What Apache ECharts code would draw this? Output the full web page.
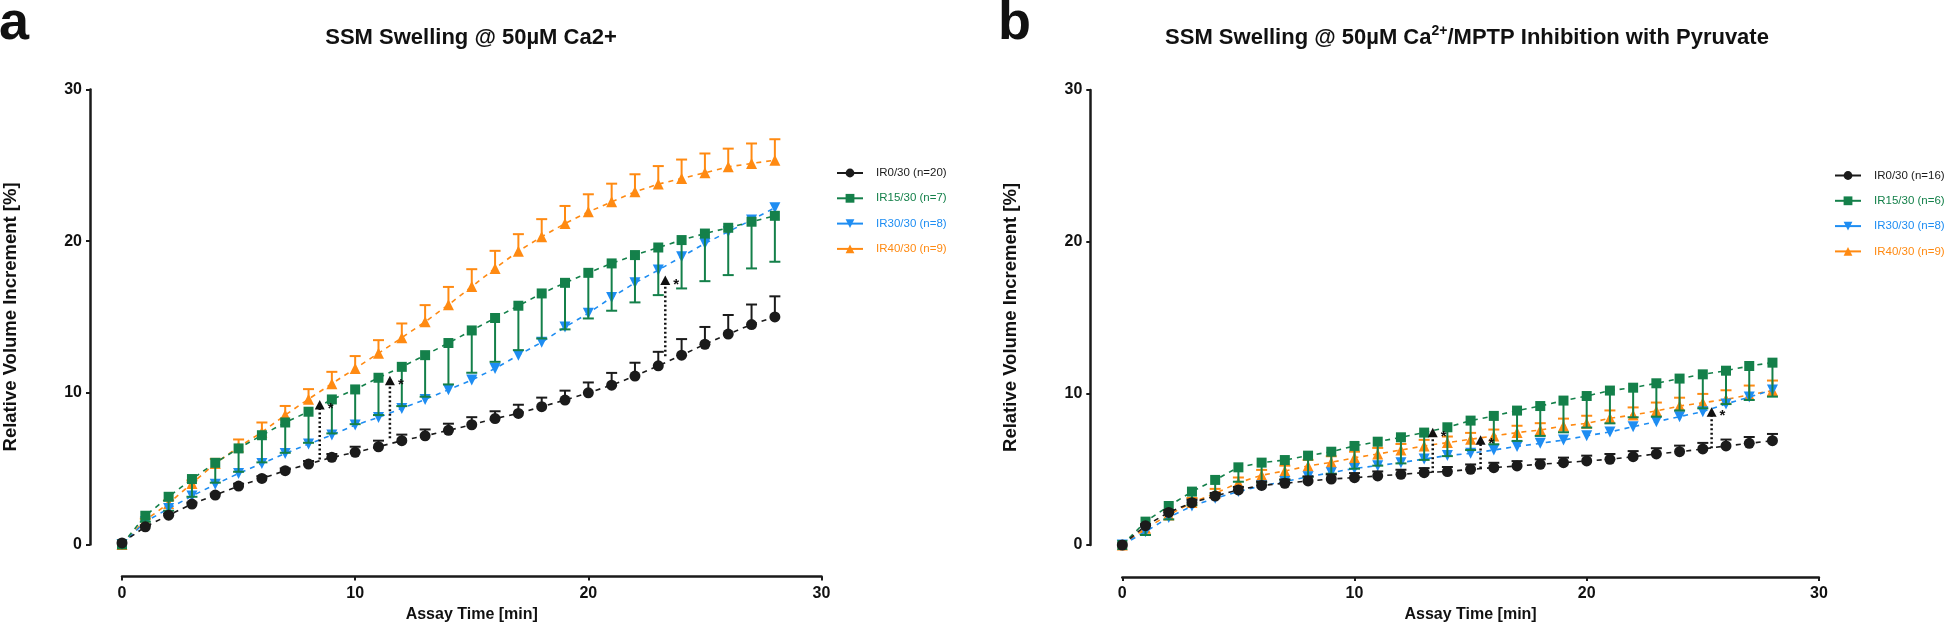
<!DOCTYPE html>
<html><head><meta charset="utf-8">
<script src="https://cdn.jsdelivr.net/npm/echarts@6/dist/echarts.min.js"></script>
<style>html,body{margin:0;padding:0;background:#fff}#c{width:1946px;height:628px}</style>
</head><body><div id="c"></div>
<script>
// ---------- DATA ----------
const times = [0,1,2,3,4,5,6,7,8,9,10,11,12,13,14,15,16,17,18,19,20,21,22,23,24,25,26,27,28];
const xTicks = [0, 10, 20, 30];
const yTicks = [0, 10, 20, 30];

// Panel a: SSM Swelling @ 50µM Ca2+
const namesA = ['IR0/30 (n=20)', 'IR15/30 (n=7)', 'IR30/30 (n=8)', 'IR40/30 (n=9)'];
const aIR0  = [0.1,1.16,1.93,2.66,3.25,3.85,4.35,4.86,5.3,5.74,6.07,6.44,6.84,7.16,7.52,7.89,8.3,8.64,9.08,9.52,10.0,10.5,11.1,11.78,12.48,13.2,13.87,14.5,15.0];
const aIR0err = [0,0.1,0.1,0.1,0.1,0.15,0.15,0.15,0.2,0.22,0.37,0.4,0.4,0.42,0.44,0.5,0.48,0.57,0.6,0.62,0.68,0.81,0.88,0.92,1.06,1.14,1.26,1.32,1.36];
const aIR15 = [0,1.89,3.14,4.31,5.38,6.33,7.2,8.04,8.75,9.56,10.22,10.99,11.71,12.48,13.28,14.11,14.93,15.74,16.55,17.25,17.91,18.53,19.08,19.58,20.07,20.5,20.88,21.28,21.67];
const aIR15err = [0,0.4,0.92,1.17,1.31,1.54,1.79,2.0,2.05,2.24,2.29,2.46,2.59,2.74,2.73,2.79,2.89,2.93,2.97,3.07,3.01,3.12,3.12,3.14,3.19,3.14,3.12,3.08,3.03];
const aIR30 = [0,1.49,2.37,3.19,3.96,4.68,5.34,6.0,6.62,7.21,7.87,8.37,8.97,9.56,10.2,10.84,11.6,12.48,13.33,14.33,15.25,16.29,17.25,18.09,18.97,19.85,20.62,21.4,22.2];
const aIR40 = [0,1.6,2.7,4.02,5.34,6.42,7.4,8.53,9.58,10.6,11.6,12.6,13.63,14.68,15.8,17.0,18.2,19.34,20.29,21.16,21.93,22.59,23.25,23.76,24.13,24.51,24.9,25.12,25.34];
const aIR40err = [0,0.1,0.2,0.2,0.3,0.5,0.64,0.6,0.66,0.78,0.82,0.87,0.94,1.1,1.18,1.15,1.16,1.12,1.16,1.16,1.16,1.2,1.16,1.19,1.25,1.27,1.2,1.32,1.38];
const aSigX  = [8.48, 11.49, 23.3];
const aSigLo = [5.6, 7.0, 12.4];
const aSigHi = [9.2, 10.8, 17.4];

// Panel b: SSM Swelling @ 50µM Ca2+ / MPTP inhibition with pyruvate
const namesB = ['IR0/30 (n=16)', 'IR15/30 (n=6)', 'IR30/30 (n=8)', 'IR40/30 (n=9)'];
const bIR0  = [0,1.27,2.15,2.79,3.23,3.63,3.93,4.07,4.22,4.35,4.44,4.55,4.66,4.77,4.84,4.99,5.1,5.21,5.32,5.43,5.54,5.65,5.82,6.0,6.15,6.33,6.53,6.7,6.88];
const bIR0err = [0,0.1,0.15,0.2,0.2,0.2,0.25,0.25,0.3,0.3,0.3,0.3,0.3,0.3,0.3,0.32,0.32,0.32,0.33,0.33,0.35,0.35,0.37,0.38,0.4,0.4,0.42,0.42,0.44];
const bIR15 = [0,1.54,2.57,3.52,4.29,5.12,5.43,5.6,5.89,6.15,6.53,6.81,7.1,7.41,7.76,8.2,8.51,8.86,9.16,9.52,9.82,10.18,10.37,10.66,10.97,11.25,11.49,11.8,12.02];
const bIR15err = [0,0.88,0.88,0.9,0.95,0.95,1.3,1.3,1.4,1.45,1.5,1.58,1.72,1.8,1.9,1.94,1.87,2.0,1.97,2.09,2.08,2.16,1.95,2.2,2.1,2.24,2.2,2.24,2.24];
const bIR30 = [0,0.88,1.82,2.57,3.08,3.52,3.9,4.18,4.5,4.77,5.05,5.23,5.43,5.67,5.9,6.04,6.26,6.5,6.7,6.92,7.2,7.45,7.8,8.13,8.46,8.79,9.3,9.75,10.22];
const bIR40 = [0,1.1,1.98,2.8,3.4,4.1,4.6,4.88,5.21,5.45,5.75,6.0,6.26,6.53,6.75,6.97,7.19,7.41,7.58,7.85,8.02,8.35,8.57,8.84,9.16,9.38,9.6,9.89,10.18];
const bIR40err = [0,0.2,0.25,0.3,0.3,0.35,0.35,0.35,0.4,0.4,0.4,0.4,0.4,0.4,0.4,0.42,0.42,0.45,0.45,0.48,0.5,0.52,0.5,0.55,0.55,0.58,0.6,0.62,0.66];
const bSigX  = [13.37, 15.43, 25.38];
const bSigLo = [4.77, 5.05, 6.37];
const bSigHi = [7.4, 6.9, 8.75];

// ---------- STYLE ----------
const C_BLACK = '#1b1b1b', C_GREEN = '#14804a', C_BLUE = '#1e8df2', C_ORANGE = '#ff8a12';
const FONT = 'Liberation Sans, Arial, Helvetica, sans-serif';

function lineSeries(name, vals, color, symbol, rot, idx, z) {
  return {
    type: 'line', name: name, xAxisIndex: idx, yAxisIndex: idx,
    data: times.map((t, i) => [t, vals[i]]),
    symbol: symbol, symbolRotate: rot, symbolSize: symbol === 'circle' ? 11 : (symbol === 'rect' ? 10 : 11),
    showSymbol: true, clip: false, z: z,
    lineStyle: { color: color, width: 1.6, type: [5, 5] },
    itemStyle: { color: color }
  };
}
function errSeries(vals, errs, color, dir, idx, z) {
  return {
    type: 'custom', xAxisIndex: idx, yAxisIndex: idx, silent: true, clip: false, z: z,
    data: times.map((t, i) => [t, vals[i], errs[i]]),
    renderItem: function (params, api) {
      const x = api.value(0), y = api.value(1), e = api.value(2);
      if (!(e > 0)) return null;
      const p0 = api.coord([x, y]);
      const p1 = api.coord([x, y + dir * e]);
      const st = { stroke: color, lineWidth: 2 };
      return { type: 'group', children: [
        { type: 'line', shape: { x1: p0[0], y1: p0[1], x2: p1[0], y2: p1[1] }, style: st },
        { type: 'line', shape: { x1: p1[0] - 5.5, y1: p1[1], x2: p1[0] + 5.5, y2: p1[1] }, style: st }
      ]};
    }
  };
}
function sigSeries(xs, los, his, idx) {
  return {
    type: 'custom', xAxisIndex: idx, yAxisIndex: idx, silent: true, clip: false, z: 10,
    data: xs.map((x, i) => [x, los[i], his[i]]),
    renderItem: function (params, api) {
      const lo = api.coord([api.value(0), api.value(1)]);
      const hi = api.coord([api.value(0), api.value(2)]);
      return { type: 'group', children: [
        { type: 'line', shape: { x1: lo[0], y1: lo[1], x2: hi[0], y2: hi[1] + 3 },
          style: { stroke: '#111', lineWidth: 2.5, lineDash: [2, 2.5] } },
        { type: 'polygon', shape: { points: [[hi[0], hi[1] - 5], [hi[0] - 5, hi[1] + 4.5], [hi[0] + 5, hi[1] + 4.5]] },
          style: { fill: '#111' } },
        { type: 'text', style: { text: '*', x: hi[0] + 8, y: hi[1] + 4, fill: '#111',
          font: 'bold 15px ' + FONT, verticalAlign: 'middle' } }
      ]};
    }
  };
}

function xAxisDef(idx) {
  return {
    type: 'value', gridIndex: idx, min: 0, max: 30, interval: 10, offset: 32,
    name: 'Assay Time [min]', nameLocation: 'middle', nameGap: 27,
    nameTextStyle: { fontFamily: FONT, fontWeight: 'bold', fontSize: 16, color: '#111' },
    axisLine: { show: true, onZero: false, lineStyle: { color: '#1a1a1a', width: 2.5 } },
    axisTick: { show: true, length: 4, lineStyle: { color: '#1a1a1a', width: 2 } },
    axisLabel: { fontFamily: FONT, fontWeight: 'bold', fontSize: 16, color: '#111', margin: 9,
      customValues: xTicks },
    splitLine: { show: false }
  };
}
function yAxisDef(idx) {
  return {
    type: 'value', gridIndex: idx, min: 0, max: 30, interval: 10, offset: 32,
    name: 'Relative Volume Increment [%]', nameLocation: 'middle', nameGap: 70,
    nameTextStyle: { fontFamily: FONT, fontWeight: 'bold', fontSize: 18.5, color: '#111' },
    axisLine: { show: true, onZero: false, lineStyle: { color: '#1a1a1a', width: 2.5 } },
    axisTick: { show: true, length: 4, lineStyle: { color: '#1a1a1a', width: 2 } },
    axisLabel: { fontFamily: FONT, fontWeight: 'bold', fontSize: 16, color: '#111', margin: 8,
      customValues: yTicks },
    splitLine: { show: false }
  };
}
function legendDef(names, left, top) {
  const cols = [C_BLACK, C_GREEN, C_BLUE, C_ORANGE];
  return {
    orient: 'vertical', left: left, top: top, itemWidth: 26, itemHeight: 11, itemGap: 13.3,
    padding: 0, selectedMode: false,
    lineStyle: { type: 'solid', width: 2 },
    textStyle: { fontFamily: FONT, fontSize: 11.5, padding: [0, 0, 0, 8] },
    data: names.map((n, i) => ({ name: n, textStyle: { color: cols[i] } }))
  };
}

const chart = echarts.init(document.getElementById('c'), null, { renderer: 'canvas' });
chart.setOption({
  backgroundColor: '#fff',
  animation: false,
  title: [
    { text: 'a', left: -1, top: -3, padding: 0, textStyle: { fontFamily: FONT, fontSize: 54, fontWeight: 'bold', color: '#111' } },
    { text: 'b', left: 998, top: -3, padding: 0, textStyle: { fontFamily: FONT, fontSize: 54, fontWeight: 'bold', color: '#111' } },
    { text: 'SSM Swelling @ 50µM Ca2+', left: 471, textAlign: 'center', top: 27, padding: 0,
      textStyle: { fontFamily: FONT, fontSize: 22, fontWeight: 'bold', color: '#111' } },
    { text: 'SSM Swelling @ 50µM Ca{sup|2+}/MPTP Inhibition with Pyruvate', left: 1467, textAlign: 'center', top: 24, padding: 0,
      textStyle: { fontFamily: FONT, fontSize: 22, fontWeight: 'bold', color: '#111', lineHeight: 28,
        rich: { sup: { fontFamily: FONT, fontSize: 14, fontWeight: 'bold', color: '#111', verticalAlign: 'top', lineHeight: 16 } } } }
  ],
  grid: [
    { left: 120.7, right: 1946 - 821.5, top: 89.5, bottom: 628 - 544.4 },
    { left: 1122.3, right: 1946 - 1818.9, top: 89.9, bottom: 628 - 545 }
  ],
  xAxis: [xAxisDef(0), xAxisDef(1)],
  yAxis: [yAxisDef(0), yAxisDef(1)],
  legend: [legendDef(namesA, 836, 167), legendDef(namesB, 1834, 169.5)],
  series: [
    errSeries(aIR40, aIR40err, C_ORANGE, 1, 0, 2),
    lineSeries(namesA[3], aIR40, C_ORANGE, 'triangle', 0, 0, 3),
    lineSeries(namesA[2], aIR30, C_BLUE, 'triangle', 180, 0, 4),
    errSeries(aIR15, aIR15err, C_GREEN, -1, 0, 5),
    lineSeries(namesA[1], aIR15, C_GREEN, 'rect', 0, 0, 6),
    errSeries(aIR0, aIR0err, C_BLACK, 1, 0, 7),
    lineSeries(namesA[0], aIR0, C_BLACK, 'circle', 0, 0, 8),
    sigSeries(aSigX, aSigLo, aSigHi, 0),

    errSeries(bIR40, bIR40err, C_ORANGE, 1, 1, 2),
    lineSeries(namesB[3], bIR40, C_ORANGE, 'triangle', 0, 1, 3),
    lineSeries(namesB[2], bIR30, C_BLUE, 'triangle', 180, 1, 4),
    errSeries(bIR15, bIR15err, C_GREEN, -1, 1, 5),
    lineSeries(namesB[1], bIR15, C_GREEN, 'rect', 0, 1, 6),
    errSeries(bIR0, bIR0err, C_BLACK, 1, 1, 7),
    lineSeries(namesB[0], bIR0, C_BLACK, 'circle', 0, 1, 8),
    sigSeries(bSigX, bSigLo, bSigHi, 1)
  ]
});
</script>
</body></html>
